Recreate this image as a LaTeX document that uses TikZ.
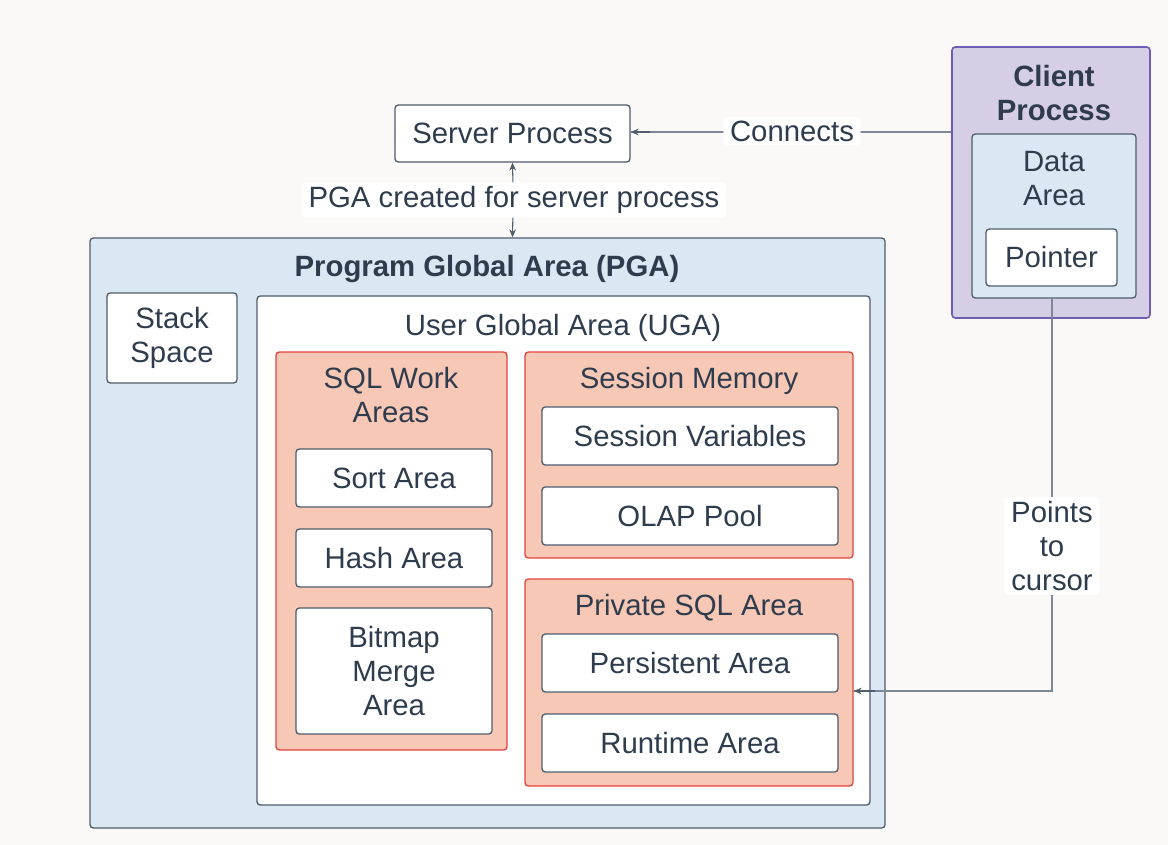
\documentclass[tikz,border=0pt]{standalone}
\usepackage{fontspec}
\setmainfont{Liberation Sans}
\usetikzlibrary{fit,arrows.meta}
\definecolor{bgc}{HTML}{FAF9F7}
\definecolor{txtc}{HTML}{2F3C4D}
\definecolor{edgec}{HTML}{4F5D6C}
\definecolor{linec}{HTML}{7C8895}
\definecolor{bluef}{HTML}{DBE7F3}
\definecolor{salf}{HTML}{F6C8B5}
\definecolor{sale}{HTML}{E2443C}
\definecolor{lavf}{HTML}{D6CEE5}
\definecolor{lave}{HTML}{6E5DB3}
\tikzset{
  box/.style={draw=edgec, line width=1pt, rounded corners=2.5pt, fill=white, inner sep=0pt},
  bluebox/.style={box, fill=bluef},
  salbox/.style={box, draw=sale, fill=salf},
  lavbox/.style={box, draw=lave, fill=lavf, line width=1.2pt},
  txt/.style={text=txtc, font=\fontsize{22}{25.5}\selectfont, align=center, inner sep=0pt},
  btxt/.style={txt, font=\fontsize{22}{25.5}\selectfont\bfseries},
  lbl/.style={txt, fill=white, inner xsep=5pt, inner ysep=3pt, rounded corners=3pt},
  conn/.style={draw=linec, line width=1pt},
  tip/.style={-{Stealth[length=6pt,width=5pt]}, draw=edgec, line width=0.8pt},
}
\begin{document}
\begin{tikzpicture}[x=0.75pt,y=-0.75pt]
\fill[bgc] (0,0) rectangle (1168,845);
\useasboundingbox (0,0) rectangle (1168,845);

% Server process
\node[box, fit={(395,105)(630,162)}] (sp) {};
\node[txt] (spt) at (sp.center) {Server Process};

% PGA
\node[bluebox, fit={(90,238)(885,828)}] (pga) {};
\node[btxt] (pgat) at (487,269) {Program Global Area (PGA)};

\node[box, fit={(107,293)(237,383)}] (stack) {};
\node[txt] (stackt) at (stack.center) {Stack\\Space};

% UGA
\node[box, fit={(257,296)(870,805)}] (uga) {};
\node[txt] (ugat) at (563,328) {User Global Area (UGA)};

% SQL Work Areas
\node[salbox, fit={(276,352)(507,750)}] (sqlw) {};
\node[txt] (sqlwt) at (391,395) {SQL Work\\Areas};
\node[box, fit={(296,449)(492,507)}] (sort) {};
\node[txt] (sortt) at (sort.center) {Sort Area};
\node[box, fit={(296,529)(492,587)}] (hash) {};
\node[txt] (hasht) at (hash.center) {Hash Area};
\node[box, fit={(296,608)(492,734)}] (bitmap) {};
\node[txt] (bitmapt) at (bitmap.center) {Bitmap\\Merge\\Area};

% Session memory
\node[salbox, fit={(525,352)(853,558)}] (sess) {};
\node[txt] (sesst) at (689,381) {Session Memory};
\node[box, fit={(542,407)(838,465)}] (svar) {};
\node[txt] (svart) at (svar.center) {Session Variables};
\node[box, fit={(542,487)(838,545)}] (olap) {};
\node[txt] (olapt) at (olap.center) {OLAP Pool};

% Private SQL area
\node[salbox, fit={(525,579)(853,786)}] (priv) {};
\node[txt] (privt) at (689,608) {Private SQL Area};
\node[box, fit={(542,634)(838,692)}] (pers) {};
\node[txt] (perst) at (pers.center) {Persistent Area};
\node[box, fit={(542,714)(838,772)}] (run) {};
\node[txt] (runt) at (run.center) {Runtime Area};

% Client process
\node[lavbox, fit={(952,47)(1150,318)}] (client) {};
\node[btxt] (clientt) at (1054,93) {Client\\Process};
\node[bluebox, fit={(972,134)(1136,298)}] (data) {};
\node[txt] (datat) at (1054,179) {Data\\Area};
\node[box, fit={(986,229)(1117,286)}] (ptr) {};
\node[txt] (ptrt) at (ptr.center) {Pointer};

% Connectors
\coordinate (pgatop) at (sp.south |- pga.north);
\draw[tip] (513,186) -- (sp.south);
\draw[tip] (513,210) -- (pgatop);
\node[lbl] (pgalbl) at (514,200) {PGA created for server process};

\draw[conn] (client.west |- 0,132) -- (sp.east |- 0,132);
\draw[tip] (650,132) -- (sp.east |- 0,132);
\node[lbl] (connlbl) at (792,131) {Connects};

\coordinate (bend) at (1052,691);
\draw[conn] (1052,298) -- (bend) -- (priv.east |- bend);
\draw[tip] (875,691) -- (priv.east |- bend);
\node[lbl] (ptclbl) at (1052,546) {Points\\to\\cursor};
\end{tikzpicture}
\end{document}
